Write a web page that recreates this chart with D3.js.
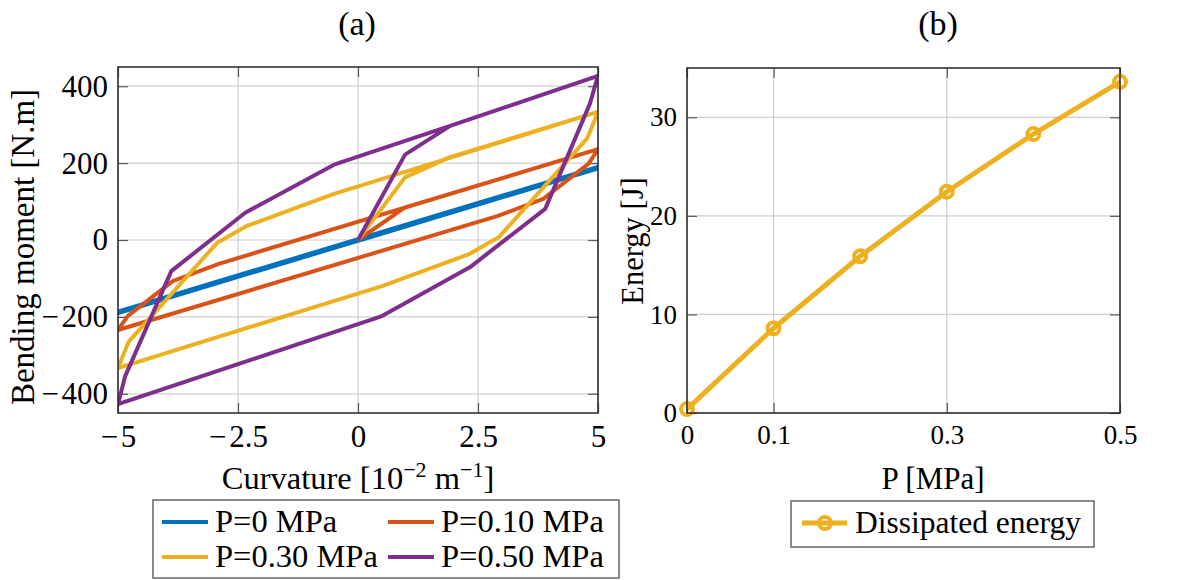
<!DOCTYPE html>
<html><head><meta charset="utf-8">
<script src="https://cdn.jsdelivr.net/npm/d3@7"></script>
<style>
body{margin:0;background:#fff}
svg{display:block}
text{font-family:"Liberation Serif","Times New Roman",serif;fill:#000}
</style></head><body>
<svg id="c" width="1202" height="580"></svg>
<script>
// ---- data ----
const curvP0 = [0, 5, -5, 5];
const momentP0 = [0, 188, -188, 188];
const curvP010 = [0, 0.98, 5, 4.8, 3.86, 2.9, -5, -4.8, -3.86, -2.9, 5];
const momentP010 = [0, 85, 236, 198, 107, 62, -234, -198, -107, -62, 236];
const curvP030 = [0, 0.98, 1.9, 5, 4.78, 2.94, 2.33, 0.5, -5, -4.78, -2.94, -2.33, -0.5, 5];
const momentP030 = [0, 163, 215, 333, 265, 8, -36, -120, -333, -265, -8, 36, 120, 333];
const curvP050 = [0, 0.98, 1.92, 5, 4.83, 3.9, 2.33, 0.5, -5, -4.85, -3.89, -2.35, -0.5, 1.92, 5];
const momentP050 = [0, 222, 297, 427, 354, 81, -71, -198, -427, -354, -81, 71, 196, 297, 427];
const seriesNames = ["P=0 MPa", "P=0.10 MPa", "P=0.30 MPa", "P=0.50 MPa"];
const seriesColors = ["#0072BD", "#D95319", "#EDB120", "#7E2F8E"];

const pressure = [0, 0.1, 0.2, 0.3, 0.4, 0.5];
const energy = [0.4, 8.6, 15.9, 22.45, 28.3, 33.6];

const curvTicks = [-5, -2.5, 0, 2.5, 5];
const momentTicks = [-400, -200, 0, 200, 400];
const pTicks = [0, 0.1, 0.3, 0.5];
const energyTicks = [0, 10, 20, 30];

// ---- drawing ----
const svg = d3.select("#c");
const fmt = d3.format("");
const fmtMinus = d => (d < 0 ? "\u2212\u200A" : "") + fmt(Math.abs(d));

function panel(x, y, xt, yt, id) {
  const [x0, x1] = x.range(), [y0, y1] = y.range();
  const g = svg.append("g");
  g.append("clipPath").attr("id", id).append("rect")
    .attr("x", x0).attr("y", y1).attr("width", x1 - x0).attr("height", y0 - y1);
  g.append("g").selectAll("line").data(xt).join("line")
    .attr("x1", d => x(d)).attr("x2", d => x(d)).attr("y1", y1).attr("y2", y0)
    .attr("stroke", "#cfcfcf").attr("stroke-width", 1.2);
  g.append("g").selectAll("line").data(yt).join("line")
    .attr("y1", d => y(d)).attr("y2", d => y(d)).attr("x1", x0).attr("x2", x1)
    .attr("stroke", "#cfcfcf").attr("stroke-width", 1.2);
  const tk = sel => sel.call(s => s.select(".domain").remove())
    .call(s => s.selectAll("line").attr("stroke", "#5a5a5a").attr("stroke-width", 1.2))
    .call(s => s.selectAll("text").remove());
  g.append("g").attr("transform", `translate(0,${y0})`).call(d3.axisBottom(x).tickValues(xt).tickSize(-10)).call(tk);
  g.append("g").attr("transform", `translate(0,${y1})`).call(d3.axisTop(x).tickValues(xt).tickSize(-10)).call(tk);
  g.append("g").attr("transform", `translate(${x0},0)`).call(d3.axisLeft(y).tickValues(yt).tickSize(-10)).call(tk);
  g.append("g").attr("transform", `translate(${x1},0)`).call(d3.axisRight(y).tickValues(yt).tickSize(-10)).call(tk);
  return g;
}

function labels(x, y, xt, yt, fs, f) {
  const [x0] = x.range(), [y0] = y.range();
  const st = s => { s.select(".domain").remove(); s.selectAll("text").attr("font-size", fs).attr("fill", "#000")
      .style("font-family", '"Liberation Serif",serif'); };
  svg.append("g").attr("transform", `translate(0,${y0})`)
    .call(d3.axisBottom(x).tickValues(xt).tickSize(0).tickPadding(12).tickFormat(f)).call(st);
  svg.append("g").attr("transform", `translate(${x0},0)`)
    .call(d3.axisLeft(y).tickValues(yt).tickSize(0).tickPadding(10).tickFormat(f)).call(st);
}

function frame(x, y) {
  const [x0, x1] = x.range(), [y0, y1] = y.range();
  svg.append("rect").attr("x", x0).attr("y", y1).attr("width", x1 - x0).attr("height", y0 - y1)
    .attr("fill", "none").attr("stroke", "#262626").attr("stroke-width", 1.5);
}

// ---- panel (a) ----
const xL = d3.scaleLinear([-5, 5], [118, 598]);
const yL = d3.scaleLinear([-450, 450], [413, 67]);
panel(xL, yL, curvTicks, momentTicks, "clipA");
const loops = [[curvP0, momentP0], [curvP010, momentP010], [curvP030, momentP030], [curvP050, momentP050]];
const lineA = d3.line().x(d => xL(d[0])).y(d => yL(d[1]));
svg.append("g").attr("clip-path", "url(#clipA)").selectAll("path").data(loops).join("path")
  .attr("d", d => lineA(d3.zip(d[0], d[1])))
  .attr("fill", "none").attr("stroke", (d, i) => seriesColors[i])
  .attr("stroke-width", (d, i) => i === 0 ? 5.5 : 4).attr("stroke-linejoin", "round");
frame(xL, yL);
labels(xL, yL, curvTicks, momentTicks, 31, fmtMinus);

// ---- panel (b) ----
const xR = d3.scaleLinear([0, 0.5], [687, 1120]);
const yR = d3.scaleLinear([0, 35], [413, 68]);
panel(xR, yR, pTicks, energyTicks, "clipB");
const pts = d3.zip(pressure, energy);
svg.append("path").attr("d", d3.line().x(d => xR(d[0])).y(d => yR(d[1]))(pts))
  .attr("fill", "none").attr("stroke", "#EDB120").attr("stroke-width", 5).attr("stroke-linejoin", "round");
svg.append("g").selectAll("circle").data(pts).join("circle")
  .attr("cx", d => xR(d[0])).attr("cy", d => yR(d[1])).attr("r", 6)
  .attr("fill", "none").attr("stroke", "#EDB120").attr("stroke-width", 4);
frame(xR, yR);
labels(xR, yR, pTicks, energyTicks, 27, fmt);

// ---- titles & axis labels ----
const T = (x, y, t, fs, anchor) => svg.append("text").attr("x", x).attr("y", y)
  .attr("font-size", fs).attr("text-anchor", anchor || "middle").text(t);
T(357, 35, "(a)", 34);
T(938, 35, "(b)", 34);
const cl = svg.append("text").attr("x", 358).attr("y", 489).attr("font-size", 32.5).attr("text-anchor", "middle");
cl.append("tspan").text("Curvature [10");
cl.append("tspan").attr("font-size", 22).attr("dy", -12).text("−2");
cl.append("tspan").attr("dy", 12).text(" m");
cl.append("tspan").attr("font-size", 22).attr("dy", -12).text("−1");
cl.append("tspan").attr("dy", 12).text("]");
T(933, 489, "P [MPa]", 31);
svg.append("text").attr("transform", "translate(34,247) rotate(-90)").attr("font-size", 33)
  .attr("text-anchor", "middle").text("Bending moment [N.m]");
svg.append("text").attr("transform", "translate(643,241) rotate(-90)").attr("font-size", 30.5)
  .attr("text-anchor", "middle").text("Energy [J]");

// ---- legend (a) ----
svg.append("rect").attr("x", 153).attr("y", 500).attr("width", 466).attr("height", 78)
  .attr("fill", "#fff").attr("stroke", "#666").attr("stroke-width", 1.5);
const legPos = [[162, 522], [388, 522], [162, 557], [388, 557]];
seriesNames.forEach((n, i) => {
  const [lx, ly] = legPos[i];
  svg.append("line").attr("x1", lx).attr("x2", lx + 46).attr("y1", ly).attr("y2", ly)
    .attr("stroke", seriesColors[i]).attr("stroke-width", 4);
  T(lx + 53, ly + 10, n, 32.5, "start");
});

// ---- legend (b) ----
svg.append("rect").attr("x", 791).attr("y", 501).attr("width", 303).attr("height", 46)
  .attr("fill", "#fff").attr("stroke", "#666").attr("stroke-width", 1.5);
svg.append("line").attr("x1", 802).attr("x2", 847).attr("y1", 523).attr("y2", 523)
  .attr("stroke", "#EDB120").attr("stroke-width", 5);
svg.append("circle").attr("cx", 825).attr("cy", 523).attr("r", 6)
  .attr("fill", "none").attr("stroke", "#EDB120").attr("stroke-width", 4);
T(855, 533, "Dissipated energy", 31.5, "start");
</script>
</body></html>
